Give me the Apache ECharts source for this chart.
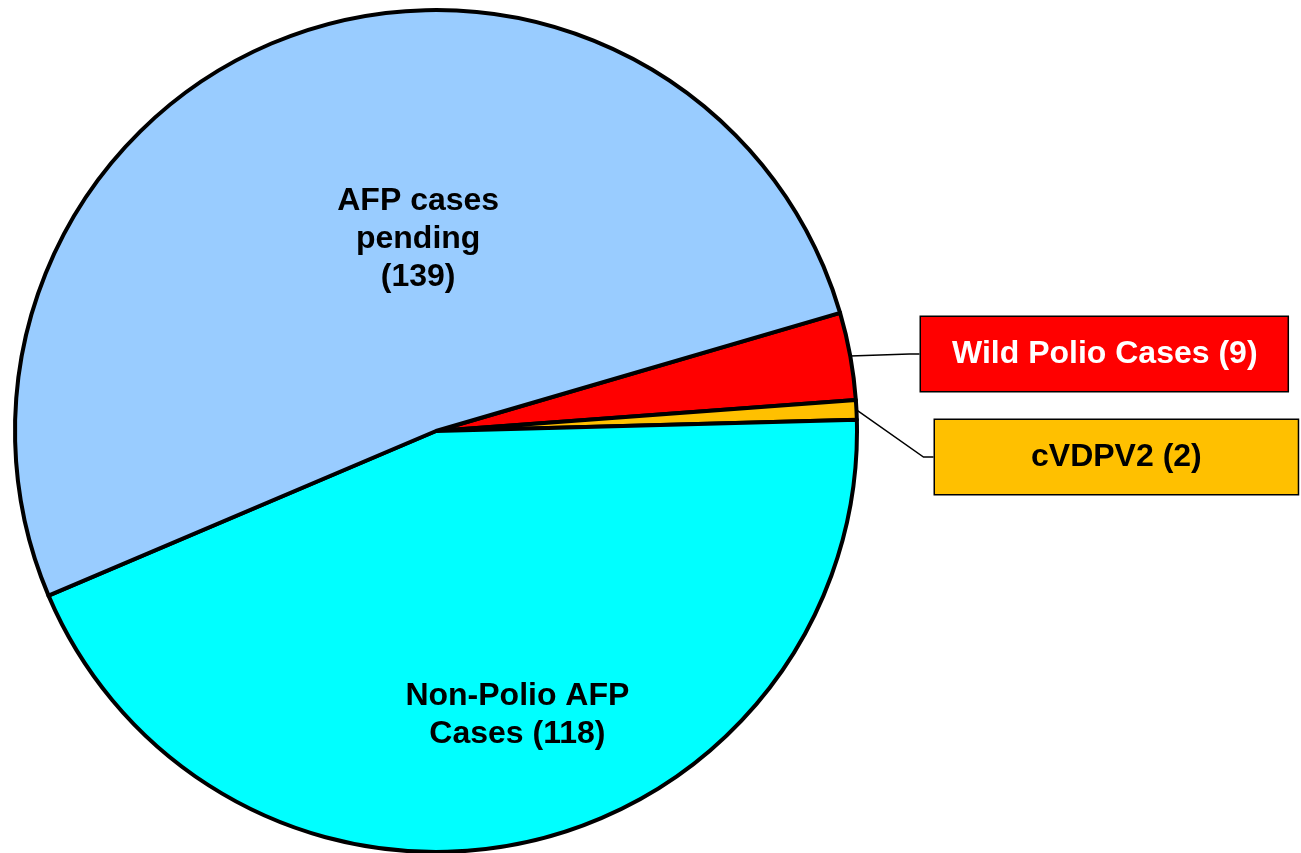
<!DOCTYPE html>
<html>
<head>
<meta charset="utf-8">
<script src="https://cdn.jsdelivr.net/npm/echarts@6/dist/echarts.min.js"></script>
<style>
html,body{margin:0;padding:0;background:#fff;}
#chart{width:1301px;height:853px;}
</style>
</head>
<body>
<div id="chart"></div>
<script>
const categories = ['Wild Polio Cases', 'cVDPV2', 'Non-Polio AFP Cases', 'AFP cases pending'];
const values = [9, 2, 118, 139];
const labelTexts = ['Wild Polio Cases (9)', 'cVDPV2 (2)', 'Non-Polio AFP\nCases (118)', 'AFP cases\npending\n(139)'];
const colors = ['#FF0000', '#FFC000', '#00FFFF', '#99CCFF'];

const FONT = '"Liberation Sans", Arial, sans-serif';

const itemLabels = [
  { position: 'outside', color: '#FFFFFF', backgroundColor: '#FF0000', borderColor: '#000', borderWidth: 1.5, padding: [18, 30, 18, 31] },
  { position: 'outside', color: '#000000', backgroundColor: '#FFC000', borderColor: '#000', borderWidth: 1.5, padding: [18, 96, 18, 96] },
  { position: 'inside', color: '#000000', offset: [36, 76] },
  { position: 'inside', color: '#000000', offset: [54, 9] }
];
const boxPlace = { 0: { x: 921, y: 354 }, 1: { x: 935, y: 457 } };

const data = categories.map((c, i) => ({
  name: c,
  value: values[i],
  itemStyle: { color: colors[i] },
  label: Object.assign({ formatter: labelTexts[i] }, itemLabels[i]),
  labelLine: { show: i < 2 }
}));

const chart = echarts.init(document.getElementById('chart'), null, { renderer: 'canvas' });
chart.setOption({
  animation: false,
  backgroundColor: '#FFFFFF',
  series: [{
    type: 'pie',
    center: [436, 431],
    radius: [0, 421],
    startAngle: 16.3,
    clockwise: true,
    avoidLabelOverlap: false,
    itemStyle: { borderColor: '#000000', borderWidth: 4 },
    label: {
      fontFamily: FONT,
      fontSize: 32,
      fontWeight: 'bold',
      lineHeight: 38
    },
    labelLine: {
      length: 20,
      length2: 10,
      lineStyle: { color: '#000', width: 1.5 }
    },
    labelLayout: function (p) {
      const b = boxPlace[p.dataIndex];
      if (!b) return {};
      return { x: b.x, y: b.y, align: 'left', verticalAlign: 'middle' };
    },
    emphasis: { disabled: true },
    data: data
  }]
});
</script>
</body>
</html>
